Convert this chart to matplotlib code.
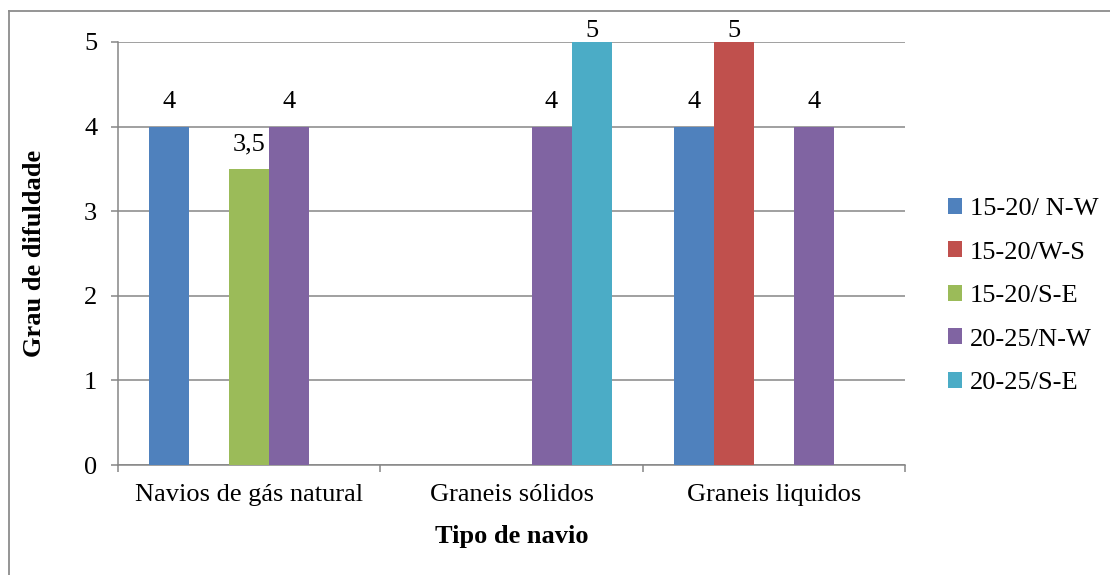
import numpy as np
import matplotlib.pyplot as plt
from matplotlib.lines import Line2D

plt.rcParams['font.family'] = ['Liberation Serif', 'DejaVu Serif']
plt.rcParams['font.size'] = 19

# data (NaN = no bar)
categories = ['Navios de gás natural', 'Graneis sólidos', 'Graneis liquidos']
series = ['15-20/ N-W', '15-20/W-S', '15-20/S-E', '20-25/N-W', '20-25/S-E']
values = [
    [4, np.nan, 4],          # 15-20/ N-W
    [np.nan, np.nan, 5],     # 15-20/W-S
    [3.5, np.nan, np.nan],   # 15-20/S-E
    [4, 4, 4],               # 20-25/N-W
    [np.nan, 5, np.nan],     # 20-25/S-E
]
colors = ['#4F81BD', '#C0504D', '#9BBB59', '#8064A2', '#4BACC6']

grid_col = '#868686'
ymax = 5

fig = plt.figure(figsize=(11.1, 5.75), dpi=100)
ax = fig.add_axes([118 / 1110, 1 - 465 / 575, 787 / 1110, 423 / 575])

x = np.arange(len(categories))
w = 40 / 262
for i, (name, vals) in enumerate(zip(series, values)):
    xs = x + (i - 2) * w
    ax.bar(xs, vals, width=w, color=colors[i], label=name, zorder=3)
    for xi, v in zip(xs, vals):
        if np.isnan(v):
            continue
        txt = f'{v:g}'.replace('.', ',')
        off = 9.5 if v < ymax else 0
        ax.annotate(txt, (xi, v), xytext=(0, off), textcoords='offset points',
                    ha='center', va='bottom', zorder=4)

ax.set_xlim(-0.5, len(categories) - 0.5)
ax.set_ylim(0, ymax)
ax.set_yticks(range(0, ymax + 1))
ax.yaxis.grid(True, color=grid_col, linewidth=1.1, zorder=0)
ax.tick_params(axis='y', direction='out', length=5, width=1.1, color=grid_col, pad=10)

ax.set_xticks(np.arange(-0.5, len(categories)), labels=[])
ax.set_xticks(x, labels=categories, minor=True)
ax.tick_params(axis='x', which='major', direction='out', length=5, width=1.1, color=grid_col)
ax.tick_params(axis='x', which='minor', length=0, pad=14)

for s in ['top', 'right']:
    ax.spines[s].set_visible(False)
for s in ['left', 'bottom']:
    ax.spines[s].set_color(grid_col)
    ax.spines[s].set_linewidth(1.1)

ax.set_xlabel('Tipo de navio', fontweight='bold')
ax.xaxis.set_label_coords(0.5, -0.142)
ax.set_ylabel('Grau de difuldade', fontweight='bold')
ax.yaxis.set_label_coords(-0.091, 0.5)

ax.legend(loc='center left', bbox_to_anchor=(937 / 1110, 1 - 296 / 575),
          bbox_transform=fig.transFigure, frameon=False,
          handlelength=0.55, handleheight=0.55, handletextpad=0.3,
          labelspacing=0.8, borderaxespad=0)

# outer chart border (only left and top edges are in view)
fig.add_artist(Line2D([9 / 1110, 9 / 1110], [0, 1 - 11 / 575], color='#8c8c8c', linewidth=1.3))
fig.add_artist(Line2D([9 / 1110, 1], [1 - 11 / 575, 1 - 11 / 575], color='#8c8c8c', linewidth=1.3))

fig.savefig('out.png', dpi=100)
